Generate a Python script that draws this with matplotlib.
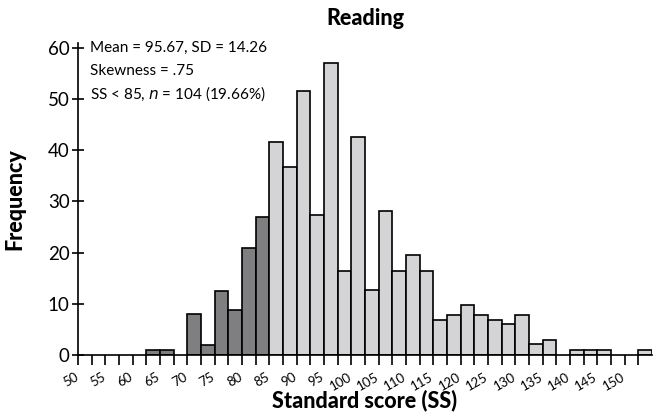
import numpy as np
import matplotlib
matplotlib.use("Agg")
import matplotlib.pyplot as plt

plt.rcParams['font.family'] = ['Lato', 'DejaVu Sans']

# Histogram of reading standard scores, 2.5-point bins starting at 50
bin_width = 2.5
bin_lefts = list(np.arange(50, 155, 2.5))
frequency = [0, 0, 0, 0, 0, 1, 1, 0, 8, 2,
             12.6, 8.8, 21, 27, 41.7, 36.8, 51.5, 27.3, 57.1, 16.4,
             42.7, 12.7, 28.2, 16.4, 19.5, 16.4, 6.8, 7.9, 9.8, 7.9,
             6.8, 6.0, 7.9, 2.2, 3.0, 0, 1, 1, 1, 0,
             0, 1]
cutoff = 85
x_tick_labels = [str(v) for v in range(50, 155, 5)]
y_ticks = [0, 10, 20, 30, 40, 50, 60]
stats_lines = ["Mean = 95.67, SD = 14.26", "Skewness = .75"]

dark = "#7f7f81"
light = "#d4d4d6"

fig = plt.figure(figsize=(6.53, 4.19), dpi=100)
ax = fig.add_axes([0.1194, 0.1527, 0.879, 0.745])

for left, h in zip(bin_lefts, frequency):
    if h <= 0:
        continue
    color = dark if left < cutoff else light
    ax.bar(left, h, width=bin_width, align='edge', color=color,
           edgecolor='black', linewidth=1.2, zorder=2)

ax.set_xlim(50, 155)
ax.set_ylim(0, 61)

ax.set_xticks(np.arange(50, 155, 2.5))
ax.set_xticklabels([])
for v, lab in zip(range(50, 155, 5), x_tick_labels):
    ax.text(v + 0.4, -3.0, lab, rotation=30, ha='right', va='top',
            fontsize=9.5)
ax.tick_params(axis='x', direction='out', length=7, width=1.2)

ax.set_yticks(y_ticks)
ax.set_yticklabels([str(v) for v in y_ticks], fontsize=13.5)
ax.tick_params(axis='y', direction='inout', length=8, width=1.2, pad=2)

for side in ['top', 'right']:
    ax.spines[side].set_visible(False)
for side in ['left', 'bottom']:
    ax.spines[side].set_linewidth(1.2)

ax.set_title("Reading", fontsize=15.5, fontweight='black', pad=13)
ax.set_xlabel("Standard score (SS)", fontsize=15.5, fontweight='black', labelpad=14)
ax.set_ylabel("Frequency", fontsize=15.5, fontweight='black', labelpad=16)

ty = 0.984
for line in stats_lines:
    ax.text(0.021, ty, line, transform=ax.transAxes, fontsize=11, va='center')
    ty -= 0.0737
ax.text(0.021, ty, r"SS < 85, $\it{n}$ = 104 (19.66%)", transform=ax.transAxes,
        fontsize=11, va='center')

fig.savefig("out.png", dpi=100)
